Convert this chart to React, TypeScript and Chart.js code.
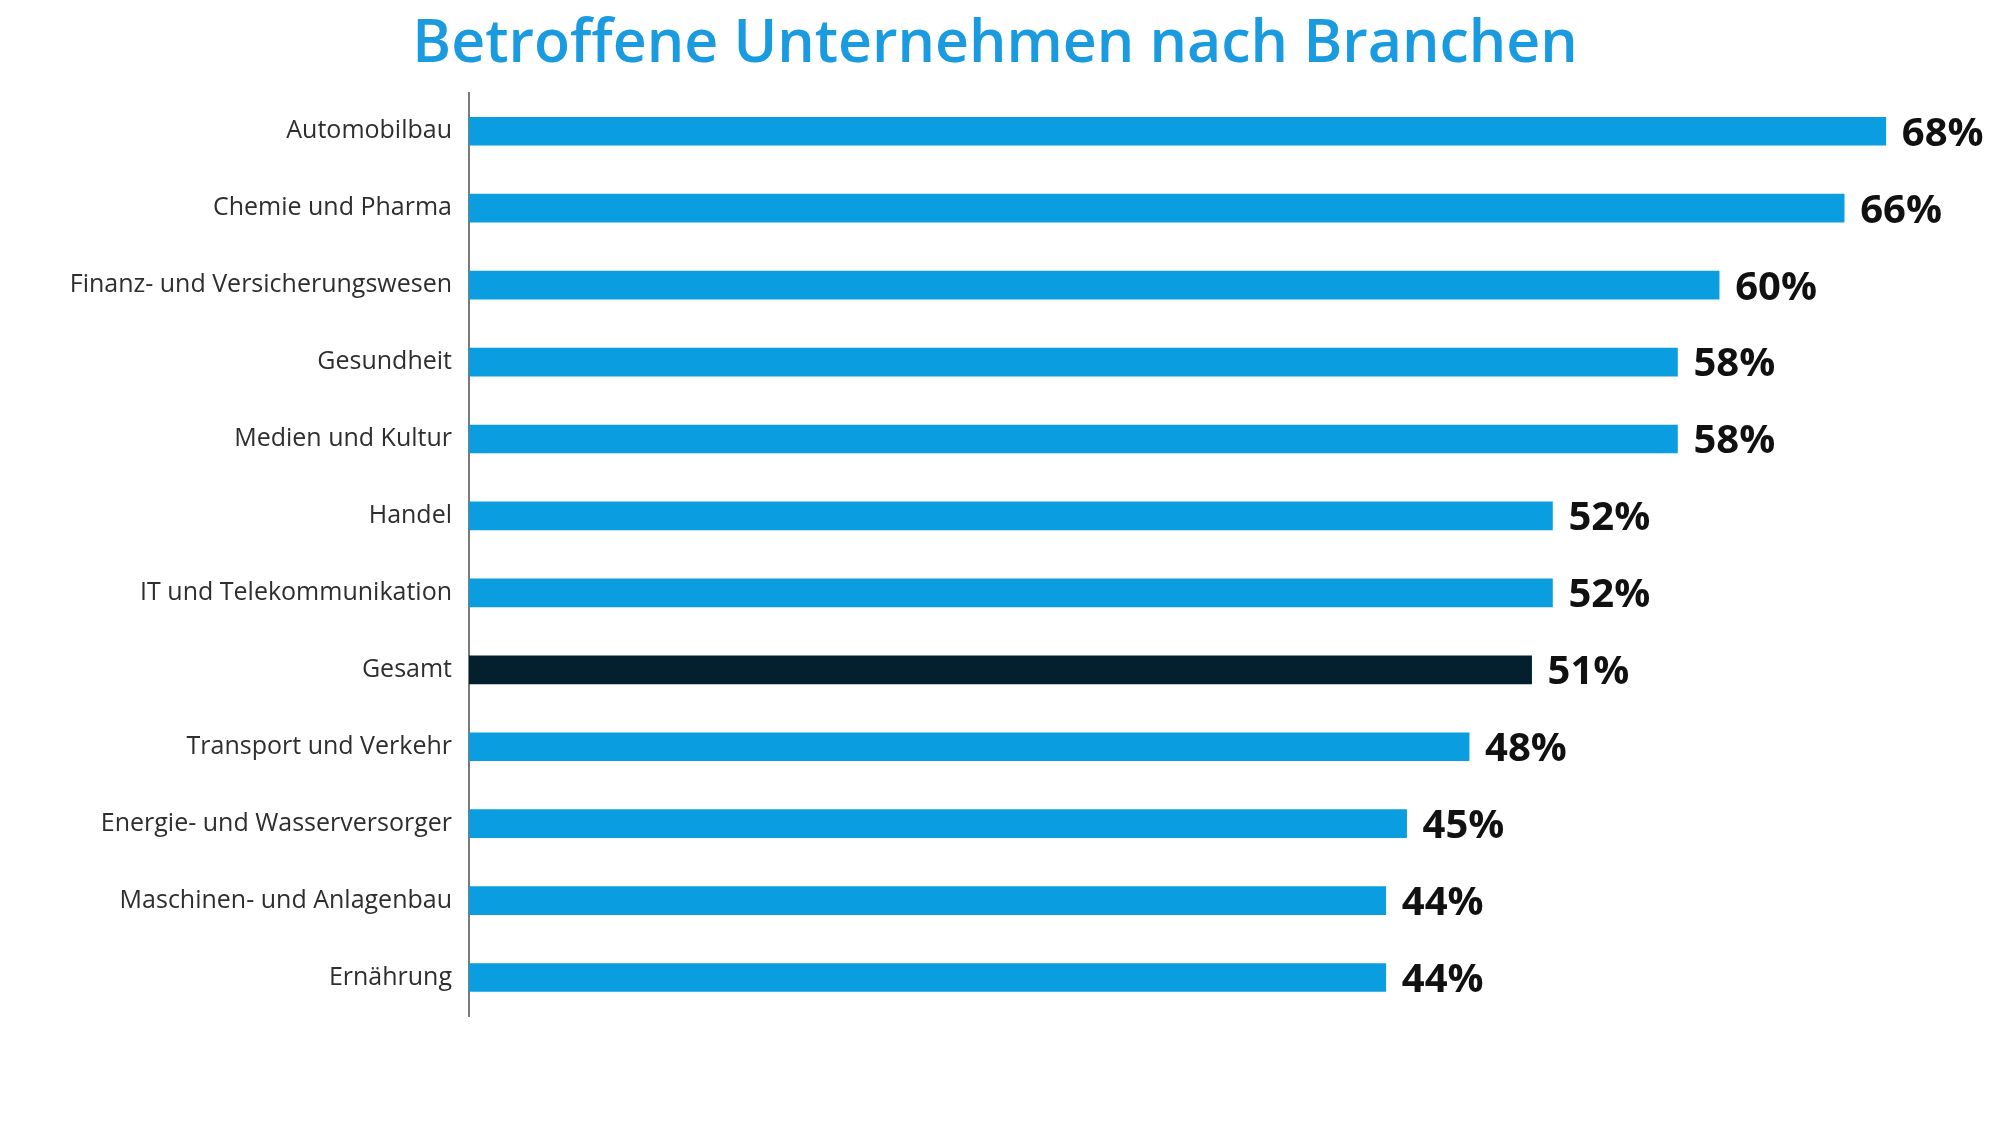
import React, { useEffect, useRef } from "react";
import { Chart, registerables } from "chart.js";

Chart.register(...registerables);

const categories = [
  "Automobilbau",
  "Chemie und Pharma",
  "Finanz- und Versicherungswesen",
  "Gesundheit",
  "Medien und Kultur",
  "Handel",
  "IT und Telekommunikation",
  "Gesamt",
  "Transport und Verkehr",
  "Energie- und Wasserversorger",
  "Maschinen- und Anlagenbau",
  "Ernährung",
];

const values = [68, 66, 60, 58, 58, 52, 52, 51, 48, 45, 44, 44];

const highlightCategory = "Gesamt";
const titleText = "Betroffene Unternehmen nach Branchen";

const BLUE = "#0a9ddf";
const DARK = "#04202e";

const valueLabelPlugin = {
  id: "valueLabels",
  afterDatasetsDraw(chart: any) {
    const ctx = chart.ctx;
    const meta = chart.getDatasetMeta(0);
    ctx.save();
    ctx.font = "bold 40px 'Open Sans', sans-serif";
    ctx.fillStyle = "#111111";
    ctx.textAlign = "left";
    ctx.textBaseline = "middle";
    meta.data.forEach((bar: any, i: number) => {
      const v = chart.data.datasets[0].data[i];
      ctx.fillText(v + "%", bar.x + 16, bar.y + 3);
    });
    ctx.restore();
  },
};

export default function App() {
  const ref = useRef<HTMLCanvasElement | null>(null);

  useEffect(() => {
    if (!ref.current) return;
    const chart = new Chart(ref.current, {
      type: "bar",
      data: {
        labels: categories,
        datasets: [
          {
            data: values,
            backgroundColor: categories.map((c) => (c === highlightCategory ? DARK : BLUE)),
            barThickness: 28,
            borderWidth: 0,
          },
        ],
      },
      options: {
        indexAxis: "y",
        responsive: false,
        animation: false,
        layout: { padding: { top: 1, right: 10, bottom: 108, left: 0 } },
        plugins: {
          legend: { display: false },
          tooltip: { enabled: false },
          title: {
            display: true,
            text: titleText,
            color: "#1a9be0",
            font: { family: "'Open Sans', sans-serif", size: 59, weight: "600", lineHeight: 1.2 },
            padding: { top: 9, bottom: 12 },
          },
        },
        scales: {
          x: {
            display: false,
            min: 0,
            max: 73,
          },
          y: {
            grid: { display: false },
            border: { display: true, color: "#7a7a7a", width: 2 },
            ticks: {
              color: "#2e2e2e",
              font: { family: "'Open Sans', sans-serif", size: 25 },
              padding: 9,
            },
            afterFit(scale: any) {
              scale.width = 469;
            },
          },
        },
      },
      plugins: [valueLabelPlugin],
    });
    return () => chart.destroy();
  }, []);

  return (
    <div style={{ position: "fixed", left: 0, top: 0, width: 2000, height: 1124, background: "#ffffff" }}>
      <canvas ref={ref} width={2000} height={1124} style={{ display: "block" }} />
    </div>
  );
}
